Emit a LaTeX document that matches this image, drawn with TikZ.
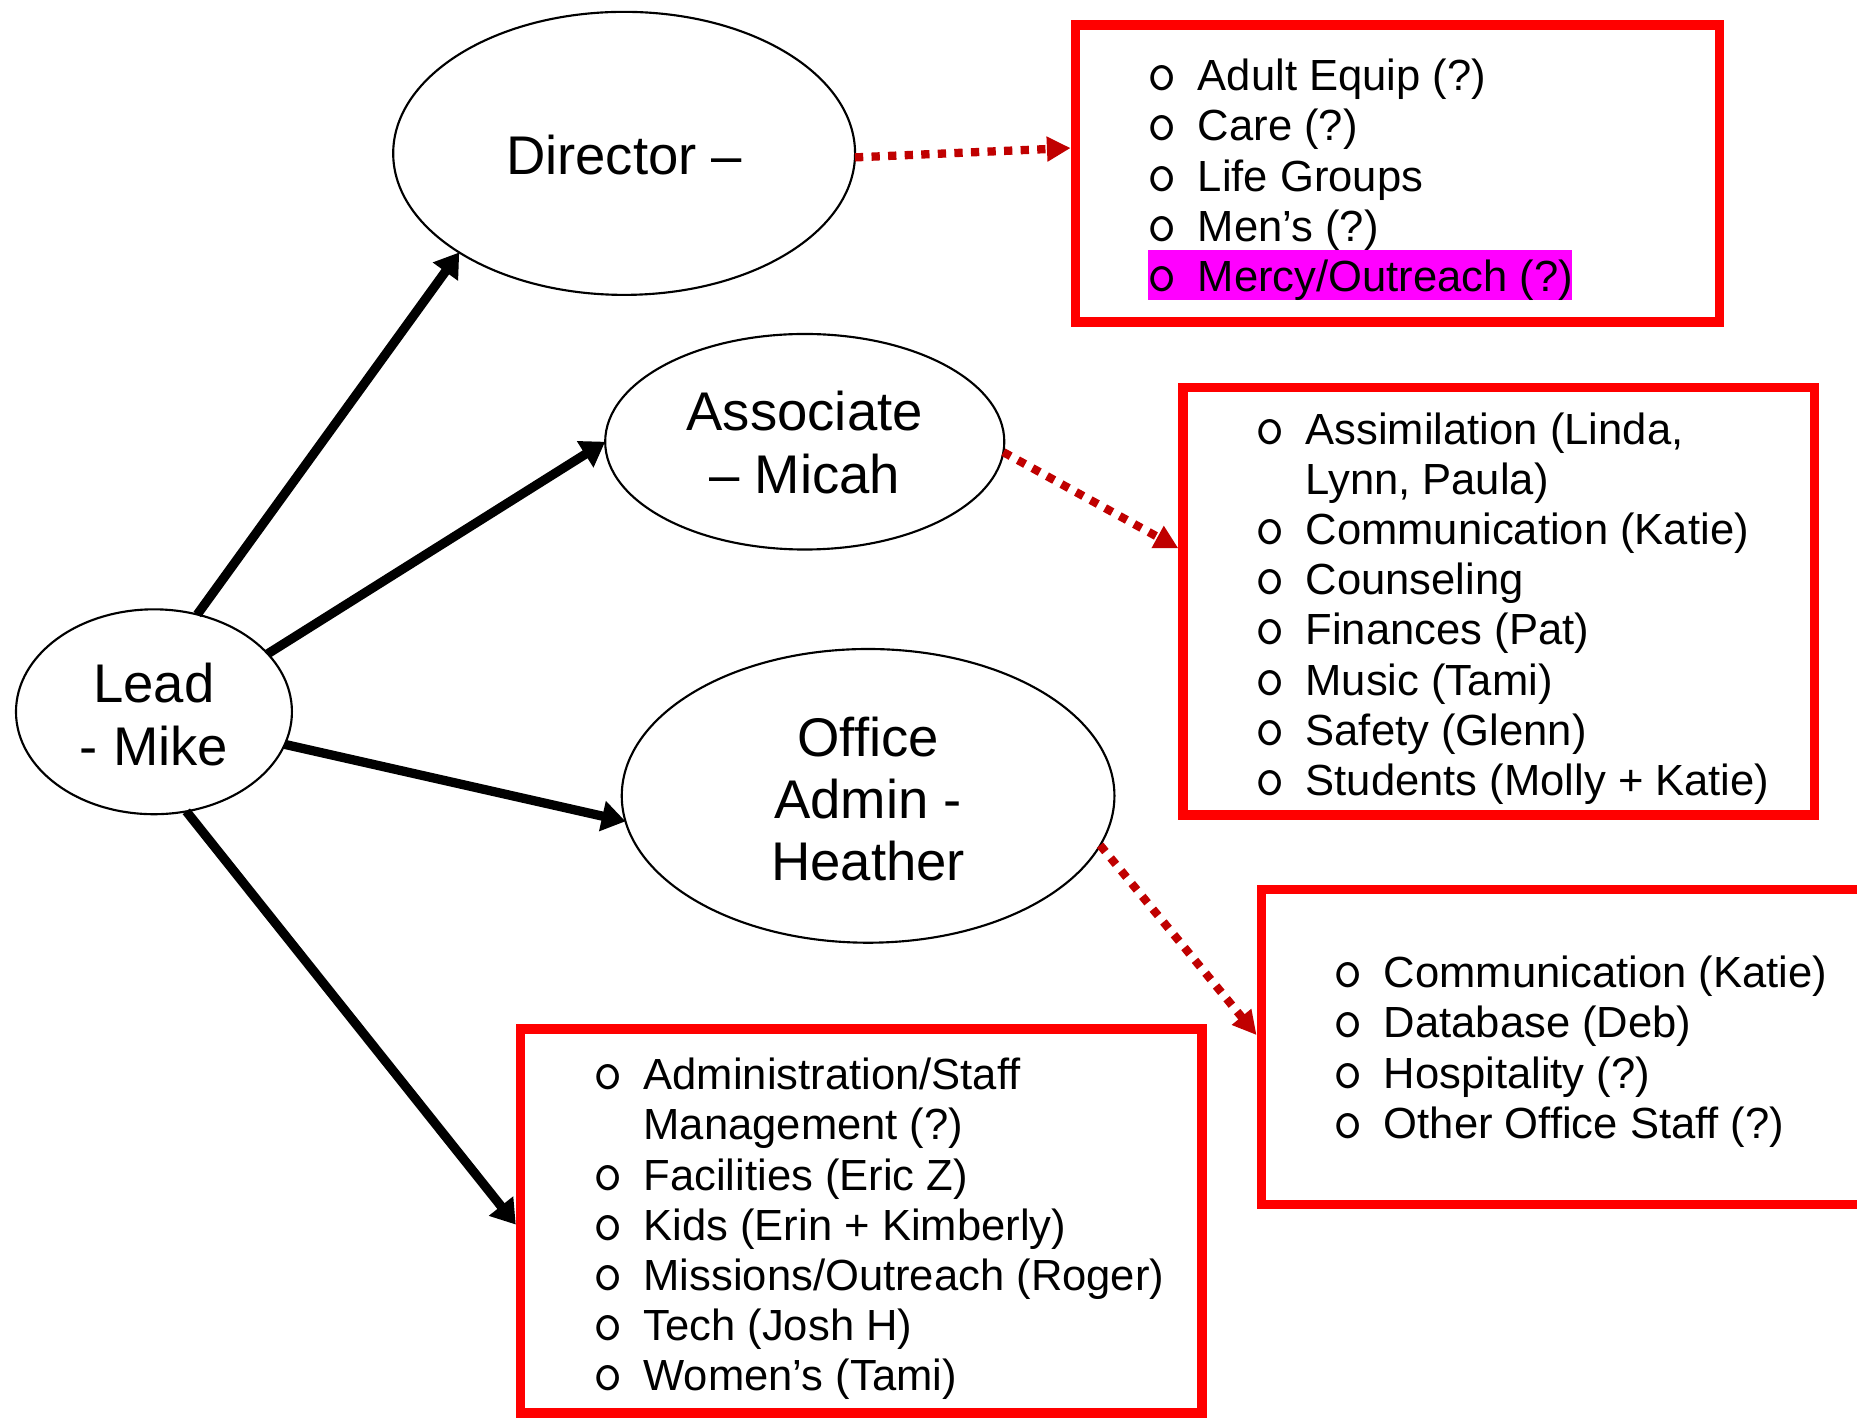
\documentclass[tikz,border=0pt]{standalone}
\usepackage{fontspec}
\setmainfont{Liberation Sans}
\usetikzlibrary{arrows.meta,calc,shapes.geometric}
\definecolor{darkred}{HTML}{C00000}
\definecolor{boxred}{HTML}{FF0000}
\definecolor{hilite}{HTML}{FF00FF}
\newcommand\listline[5]{%
  \node[bul] (#1b) at (#2,#4) {o};
  \node[itemtext] (#1) at (#3,#4) {#5};}
\begin{document}
\begin{tikzpicture}[x=0.5pt,y=-0.5pt,
  role/.style={draw=black, line width=0.9pt, ellipse, inner sep=0pt, outer sep=0pt},
  rolelabel/.style={anchor=base, inner sep=0pt, font=\fontsize{23}{26.5}\selectfont},
  listbox/.style={draw=boxred, line width=4pt, rectangle, inner sep=0pt},
  bul/.style={anchor=base, inner sep=0pt, text height=10.5pt, text depth=0.2pt, text width=11pt, align=center, font=\ttfamily\fontsize{24}{24}\selectfont},
  itemtext/.style={anchor=base west, inner sep=0pt, font=\fontsize{18.4}{21.2}\selectfont},
  solidarrow/.style={black, line width=3.9pt, -{Triangle[length=10pt,width=12.5pt]}},
  dotarrow/.style={darkred, line width=3.5pt, dash pattern=on 3.5pt off 3.5pt, -{Triangle[length=10pt,width=10pt]}},
]
\useasboundingbox (0,0) rectangle (1568,1197);
\fill[white] (0,0) rectangle (1568,1197);
\clip (0,0) rectangle (1568,1197);

% ellipses
\node[role, minimum width=116.5pt, minimum height=86.5pt] (lead) at (130,601) {};
\node[role, minimum width=195pt, minimum height=119.5pt] (dir) at (527,129.5) {};
\node[role, minimum width=168.5pt, minimum height=91pt] (assoc) at (679.5,373) {};
\node[role, minimum width=208pt, minimum height=124pt] (office) at (733,672) {};

\node[rolelabel] (leadA) at (130,593.5) {Lead};
\node[rolelabel] (leadB) at (130,646.5) {- Mike};
\node[rolelabel] (dirA) at (527,147.5) {Director –};
\node[rolelabel] (assA) at (679.5,363.5) {Associate};
\node[rolelabel] (assB) at (679.5,416.5) {– Micah};
\node[rolelabel] (offA) at (733,638.5) {Office};
\node[rolelabel] (offB) at (733,691.5) {Admin -};
\node[rolelabel] (offC) at (733,743.5) {Heather};

% boxes
\node[listbox, minimum width=272pt, minimum height=125.5pt] (box1) at (1180,146.5) {};
\node[listbox, minimum width=266.5pt, minimum height=180.5pt] (box2) at (1265.5,507.5) {};
\node[listbox, minimum width=257.5pt, minimum height=133pt] (box3) at (1322.5,884) {};
\node[listbox, minimum width=287.75pt, minimum height=162pt] (box4) at (727.25,1031) {};

% highlight
\fill[hilite] (969.5,211) rectangle (1327.5,253);

% box 1
\listline{da}{980}{1011}{76.5}{Adult Equip (?)}
\listline{db}{980}{1011}{119}{Care (?)}
\listline{dc}{980}{1011}{161.5}{Life Groups}
\listline{dd}{980}{1011}{204}{Men’s (?)}
\listline{de}{980}{1011}{246.5}{Mercy/Outreach (?)}

% box 2
\listline{aa}{1071}{1102}{375}{Assimilation (Linda,}
\node[itemtext] (aa2) at (1102,417.4) {Lynn, Paula)};
\listline{ab}{1071}{1102}{459.8}{Communication (Katie)}
\listline{ac}{1071}{1102}{502.2}{Counseling}
\listline{ad}{1071}{1102}{544.6}{Finances (Pat)}
\listline{ae}{1071}{1102}{587}{Music (Tami)}
\listline{af}{1071}{1102}{629.4}{Safety (Glenn)}
\listline{ag}{1071}{1102}{671.8}{Students (Molly + Katie)}

% box 3
\listline{oa}{1137}{1168}{834}{Communication (Katie)}
\listline{ob}{1137}{1168}{876.4}{Database (Deb)}
\listline{oc}{1137}{1168}{918.8}{Hospitality (?)}
\listline{od}{1137}{1168}{961.2}{Other Office Staff (?)}

% box 4
\listline{la}{512}{543}{920}{Administration/Staff}
\node[itemtext] (la2) at (543,962.4) {Management (?)};
\listline{lb}{512}{543}{1004.8}{Facilities (Eric Z)}
\listline{lc}{512}{543}{1047.2}{Kids (Erin + Kimberly)}
\listline{ld}{512}{543}{1089.6}{Missions/Outreach (Roger)}
\listline{le}{512}{543}{1132}{Tech (Josh H)}
\listline{lf}{512}{543}{1174.4}{Women’s (Tami)}

% arrows
\draw[solidarrow] (lead.66.4) -- (dir.-149.5);
\draw[solidarrow] (lead.27) -- (assoc.west);
\draw[solidarrow] (lead.-14.85) -- (office.186.85);
\draw[solidarrow] (lead.-72.6) -- ($(box4.west)+(0,3)$);
\draw[dotarrow] (dir.-1) -- ($(box1.west)+(0,-21.5)$);
\draw[dotarrow] (assoc.-3) -- ($(box2.west)+(0,-44.5)$);
\draw[dotarrow] (office.-12.7) -- ($(box3.west)+(0,-10)$);
\end{tikzpicture}
\end{document}
